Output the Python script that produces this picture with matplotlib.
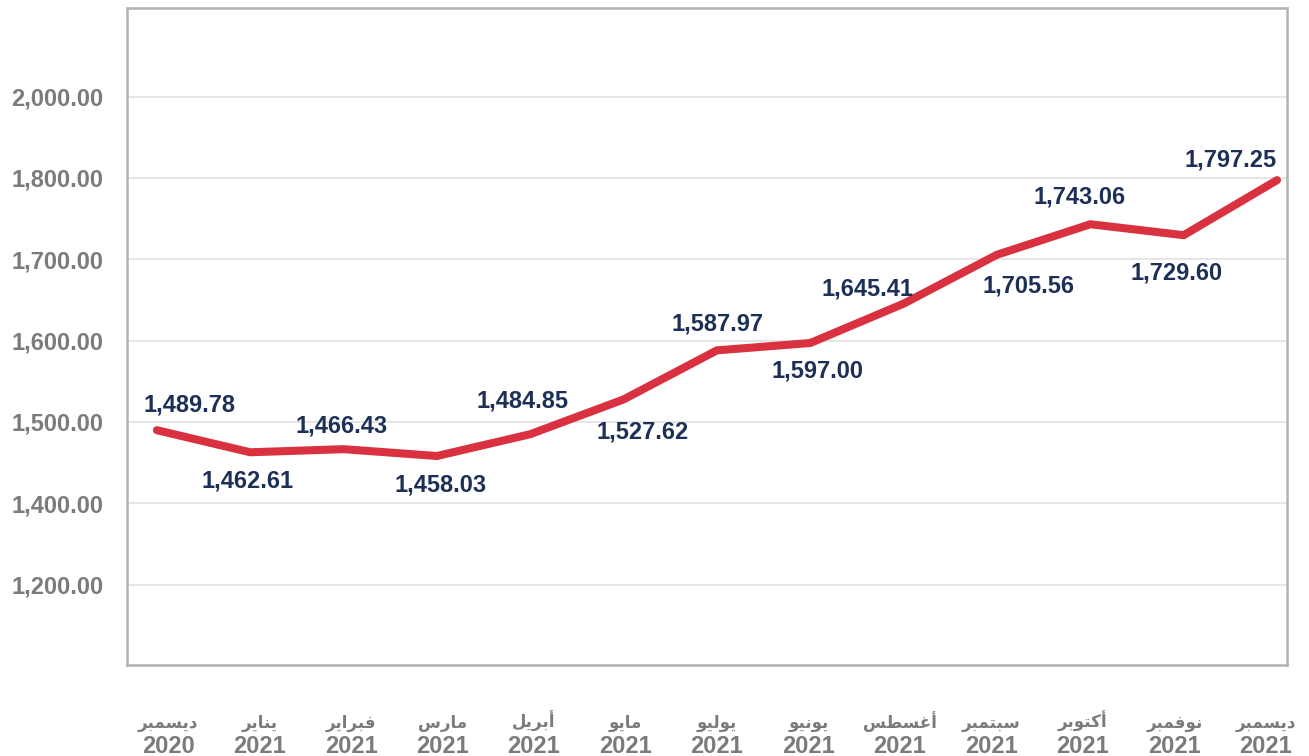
import matplotlib.pyplot as plt
from matplotlib.transforms import blended_transform_factory

# data
months_ar = ["ديسمبر", "يناير", "فبراير", "مارس", "أبريل", "مايو", "يوليو",
             "يونيو", "أغسطس", "سبتمبر", "أكتوبر", "نوفمبر", "ديسمبر"]
years = ["2020", "2021", "2021", "2021", "2021", "2021", "2021",
         "2021", "2021", "2021", "2021", "2021", "2021"]
values = [1489.78, 1462.61, 1466.43, 1458.03, 1484.85, 1527.62, 1587.97,
          1597.00, 1645.41, 1705.56, 1743.06, 1729.60, 1797.25]
ytick_vals = [1300, 1400, 1500, 1600, 1700, 1800, 1900]
ytick_labels = ["1,200.00", "1,400.00", "1,500.00", "1,600.00", "1,700.00", "1,800.00", "2,000.00"]

# label offsets in pixels (dx, dy)
offsets = [(33, 25), (-3, -29), (-2, 23), (4, -29), (-8, 33), (19, -33), (1, 26),
           (7, -28), (-36, 15), (32, -31), (-11, 27), (-7, -38), (-46, 20)]


# matplotlib has no arabic shaping, so pick presentation forms by hand
FORMS = {
    "ا": ("\uFE8D", "\uFE8E", None, None),
    "أ": ("\uFE83", "\uFE84", None, None),
    "د": ("\uFEA9", "\uFEAA", None, None),
    "ر": ("\uFEAD", "\uFEAE", None, None),
    "و": ("\uFEED", "\uFEEE", None, None),
    "ب": ("\uFE8F", "\uFE90", "\uFE91", "\uFE92"),
    "ت": ("\uFE95", "\uFE96", "\uFE97", "\uFE98"),
    "س": ("\uFEB1", "\uFEB2", "\uFEB3", "\uFEB4"),
    "ط": ("\uFEC1", "\uFEC2", "\uFEC3", "\uFEC4"),
    "غ": ("\uFECD", "\uFECE", "\uFECF", "\uFED0"),
    "ف": ("\uFED1", "\uFED2", "\uFED3", "\uFED4"),
    "ك": ("\uFED9", "\uFEDA", "\uFEDB", "\uFEDC"),
    "ل": ("\uFEDD", "\uFEDE", "\uFEDF", "\uFEE0"),
    "م": ("\uFEE1", "\uFEE2", "\uFEE3", "\uFEE4"),
    "ن": ("\uFEE5", "\uFEE6", "\uFEE7", "\uFEE8"),
    "ي": ("\uFEF1", "\uFEF2", "\uFEF3", "\uFEF4"),
}


def shape(word):
    out = []
    for i, c in enumerate(word):
        iso, fin, ini, med = FORMS[c]
        jp = i > 0 and FORMS[word[i - 1]][2] is not None
        jn = i < len(word) - 1 and ini is not None
        if jp and jn:
            out.append(med)
        elif jp:
            out.append(fin)
        elif jn:
            out.append(ini)
        else:
            out.append(iso)
    return "".join(reversed(out))


W, H = 1309, 756
fig = plt.figure(figsize=(W / 100, H / 100), dpi=100)
ax = fig.add_axes([127 / W, (H - 665) / H, (1287 - 127) / W, (665 - 8) / H])

x = list(range(len(values)))
ax.plot(x, values, color="#d9313f", lw=5.8, solid_joinstyle="miter",
        solid_capstyle="round", zorder=3)

navy = "#1c2f56"
fam = ["Liberation Sans", "DejaVu Sans"]
for xi, v, (dx, dy) in zip(x, values, offsets):
    ax.annotate(f"{v:,.2f}", (xi, v), xytext=(dx, dy), textcoords="offset pixels",
                ha="center", va="center", fontsize=17, fontweight="bold",
                color=navy, family=fam)

ax.set_xlim(-0.32, 12.107)
ax.set_ylim(1201, 2009)
ax.set_yticks(ytick_vals)
ax.set_yticklabels(ytick_labels)
ax.set_xticks(x)
ax.set_xticklabels([])

ax.grid(axis="y", color="#e3e3e3", lw=1.3)
ax.set_axisbelow(True)
for s in ax.spines.values():
    s.set_color("#b3b3b3")
    s.set_linewidth(1.8)

gray = "#7b7b7d"
ax.tick_params(axis="both", length=0, colors=gray)
ax.tick_params(axis="y", pad=17)
for lab in ax.get_yticklabels():
    lab.set_fontsize(17)
    lab.set_fontweight("bold")
    lab.set_family(fam)

# month labels: arabic name over the year, slightly squeezed toward the middle
tr = blended_transform_factory(ax.transData, fig.transFigure)
for xi, m, y in zip(x, months_ar, years):
    xl = 6 + (xi - 6) * 0.98
    ax.text(xl, 1 - 728 / H, shape(m), transform=tr, ha="center", va="baseline",
            fontsize=12, fontweight="bold", color=gray, family="DejaVu Sans")
    ax.text(xl, 1 - 753 / H, y, transform=tr, ha="center", va="baseline",
            fontsize=17, fontweight="bold", color=gray, family=fam)

fig.savefig("out.png", dpi=100)
